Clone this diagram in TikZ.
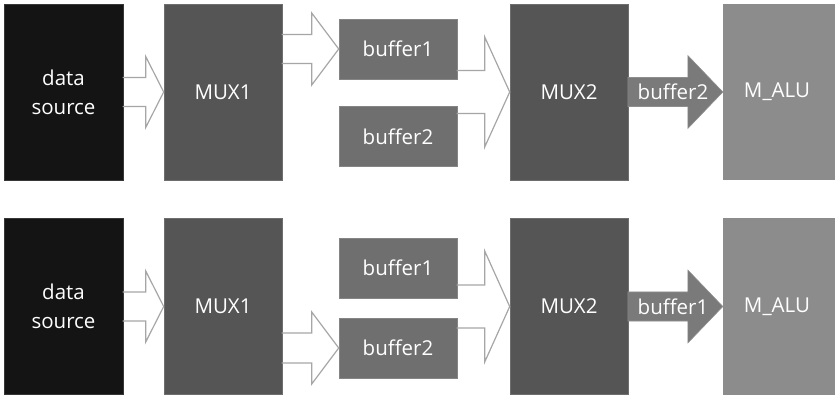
\documentclass[tikz,border=0pt]{standalone}
\usepackage{fontspec}
\setmainfont{Open Sans}
\usetikzlibrary{calc}
\definecolor{dsc}{HTML}{141414}
\definecolor{muxc}{HTML}{555555}
\definecolor{bufc}{HTML}{6F6F6F}
\definecolor{aluc}{HTML}{8C8C8C}
\definecolor{arrc}{HTML}{7A7A7A}
\definecolor{linec}{HTML}{A6A6A6}
\newcommand{\openblk}[5]{%
  \draw[openarr] ($(#1)+(-#2,-#4)$) -- ($(#1)+(-#3,-#4)$) -- ($(#1)+(-#3,-#5)$) -- (#1)
    -- ($(#1)+(-#3,#5)$) -- ($(#1)+(-#3,#4)$) -- ($(#1)+(-#2,#4)$);}
\newcommand{\fillblk}[5]{%
  \filldraw[fillarr] ($(#1)+(-#2,-#4)$) -- ($(#1)+(-#3,-#4)$) -- ($(#1)+(-#3,-#5)$) -- (#1)
    -- ($(#1)+(-#3,#5)$) -- ($(#1)+(-#3,#4)$) -- ($(#1)+(-#2,#4)$) -- cycle;}
\tikzset{
  blk/.style={rectangle, inner sep=0pt, text=white, align=center,
    font=\fontsize{20.5}{29}\selectfont},
  dsbox/.style={blk, fill=dsc, draw=dsc!85!white, line width=0.6pt, minimum width=119pt, minimum height=176pt},
  muxbox/.style={blk, fill=muxc, draw=muxc!85!white, line width=0.6pt, minimum width=118pt, minimum height=176pt},
  bufbox/.style={blk, fill=bufc, draw=bufc!85!white, line width=0.6pt, minimum width=118pt, minimum height=60pt},
  alubox/.style={blk, fill=aluc, minimum width=112pt, minimum height=176pt},
  openarr/.style={draw=linec, line width=1.2pt, line join=miter},
  fillarr/.style={fill=arrc, draw=arrc!85!white, line width=0.6pt},
  arrlabel/.style={text=white, inner sep=0pt, font=\fontsize{20.5}{29}\selectfont}
}
\begin{document}
\begin{tikzpicture}[x=1pt,y=-1pt]
\useasboundingbox[fill=white] (0,0) rectangle (835,395);
% ---------- top row ----------
\node[dsbox]  (ds1)   at (63.5,92)  {data\\source};
\node[muxbox] (mux1a) at (223,92)   {MUX1};
\node[bufbox] (b1a)   at (398,49)   {buffer1};
\node[bufbox] (b2a)   at (398,136.5){buffer2};
\node[muxbox] (mux2a) at (569,92)   {MUX2};
\node[alubox] (alua)  at (779,92)   {};
\node[arrlabel] (alutxa) at (777,92) {M\_ALU};
\openblk{mux1a.west}{41}{18}{14.5}{35.5}
\openblk{b1a.west}{57}{27}{14.5}{36}
\openblk{mux2a.west}{53}{25}{21.5}{55}
\fillblk{alua.west}{95}{35}{14.5}{36.5}
\node[arrlabel] (lba) at (673,92) {buffer2};
% ---------- bottom row ----------
\node[dsbox]  (ds2)   at (63.5,306.5) {data\\source};
\node[muxbox] (mux1b) at (223,306.5)  {MUX1};
\node[bufbox] (b1b)   at (398,268)    {buffer1};
\node[bufbox] (b2b)   at (398,348)    {buffer2};
\node[muxbox] (mux2b) at (569,306.5)  {MUX2};
\node[alubox] (alub)  at (779,306.5)  {};
\node[arrlabel] (alutxb) at (777,306.5) {M\_ALU};
\openblk{mux1b.west}{41}{18}{14.5}{35.5}
\openblk{b2b.west}{57}{27}{15}{36}
\openblk{mux2b.west}{53}{25}{21.5}{55.5}
\fillblk{alub.west}{95}{35}{14.5}{36.5}
\node[arrlabel] (lbb) at (673,306.5) {buffer1};
\end{tikzpicture}
\end{document}
